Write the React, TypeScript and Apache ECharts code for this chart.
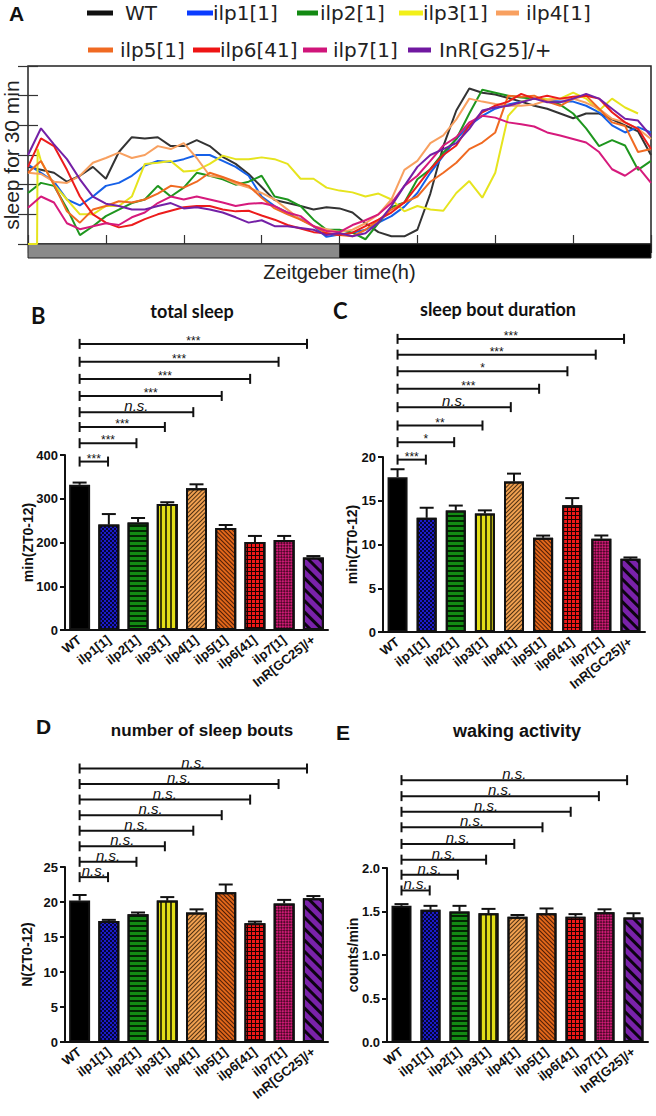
import React, { useEffect, useRef } from "react";
import * as echarts from "echarts";

// ---------- Panel A data (sleep per 30 min, sampled every 0.5 h) ----------
const TIMES = [0,0.5,1,1.5,2,2.5,3,3.5,4,4.5,5,5.5,6,6.5,7,7.5,8,8.5,9,9.5,10,10.5,11,11.5,12,12.5,13,13.5,14,14.5,15,15.5,16,16.5,17,17.5,18,18.5,19,19.5,20,20.5,21,21.5,22,22.5,23,23.5,24];
const WT = [13,12.5,12,10.5,11.5,13,11,15.5,18,17.8, 18,16.5,16.5,17.5,16.5,14.7,13.5,11.8,9.6,7.4, 6.9,6.4,5.8,6.2,6,5.3,3.5,2,1.3,1.3, 2.4,8.5,16.5,22.5,26.2,25.5,25.2,24.6,24,23.3, 22.8,22,21.2,22,22,21,20,19,15];
const ILP1 = [13.4,12,10.5,7.5,6.5,8,9.8,10.3,11.5,13.2, 14,13.8,14.3,15,15,14,13,11.5,8,6.4, 5.3,4.2,3,1.2,1.6,1.9,2.4,3.6,4.7,6.3, 8.6,12,14.9,17.7,20,21.6,22.8,23.5,24,24.5, 24.2,24,24,23.3,22.2,20,18.8,19.7,18.8];
const ILP2 = [8.6,10.3,9.8,6,1.5,3,4.7,5.8,6.9,7.5, 9.8,8,9.5,12,11.5,10.9,10,10.5,11.5,8, 7.5,6.4,4.1,2.4,2.4,1.9,0.8,3.5,6.2,7, 10.9,12.6,15.4,17.7,22,26,25.5,25,24.7,24.5, 24.3,23.5,22,19.5,16.5,17.5,16.6,12.5,14];
const ILP3 = [0,14,10,7.5,5,5,6.4,6.4,8,13.5, 13.7,14,12.2,12.4,13.5,14.9,14.3,14.3,14.6,14.3, 13.5,11,11,9.5,9,8.7,8,8.5,7.5,5.5, 6.4,5.8,5.6,8.6,10.6,7.8,12,21.6,24,24.5, 24.4,24.5,25.5,24.5,22.5,24.5,23,22,null];
const ILP3_STEP = [[0.35, 0], [0.37, 16]];
const ILP4 = [12,11.8,10.5,10.3,11.5,13.7,14.5,15.4,14.5,15, 16.5,16,17,14.5,11.5,11.2,10.2,9.5,8.6,7.5, 5.8,4.1,3,2.5,2,2.4,3.5,5,7.5,12.5, 14,17,18.3,21,24.5,24,23.6,23.3,23.3,23.5, 24.2,24.5,24.5,23.8,22.8,21.1,20.5,19.4,17.7];
const ILP5 = [12,14,10,5.5,3.6,5.8,6.4,7.2,7,7.5, 8.5,9.8,9.5,10.5,12,11.3,10.5,9.8,7.8,6, 5,4.1,3,1.8,1.5,1.3,2.4,4,5.8,7, 8,10.5,12,13.7,16,17.1,18.8,25,24.8,25, 24,23.3,24.5,25,22.8,20.5,19.9,15.5,16];
const ILP6 = [13,17.8,16.5,12.5,8,5,3.6,2.8,3.2,4.2, 5,5.6,6.2,6.4,6.4,5.8,5.5,5.6,4.8,4.1, 3.2,2.6,2,1.8,1.5,1.9,3,4.1,5.3,7, 9.8,12.6,15,16.6,20,22.2,23.3,24,25.3,24.5, 25,24.5,24.8,25,24.5,22.2,20.5,19.4,16];
const ILP7 = [6.1,8,7,3.5,2.5,3,3.5,3.2,4.5,5.3, 6.9,8,7.5,8,7.5,7,6.4,6.8,6.9,6.4, 5.3,4.7,3,2.2,2,3.2,4,5,6.9,9.8, 11.5,14,16.6,18,20.5,21.6,21.3,20.5,20.2,19.8, 18.8,18.3,17.7,17.1,15.5,12.6,11.5,13,10.3];
const INR = [15,19.5,16.8,14.3,10.9,8,6.8,6.4,5.8,5.8, 6.4,6.9,6,6.2,5.8,5.3,4.5,3.6,4,3, 3,2.7,2.4,1.5,1.8,1.3,1.8,3.6,6.4,9.8, 13,15,16,17,19.4,22.5,23,23.3,23.9,24.5, 23.9,23.9,24.5,25.3,24.5,22.8,21.1,20.8,18.2];

const LINE_NAMES = ["WT", "ilp1[1]", "ilp2[1]", "ilp3[1]", "ilp4[1]", "ilp5[1]", "ilp6[41]", "ilp7[1]", "InR[G25]/+"];
const LINE_VALUES = [WT, ILP1, ILP2, ILP3, ILP4, ILP5, ILP6, ILP7, INR];
const LINE_COLORS = ["#333333", "#1560e8", "#1e961e", "#e6e41e", "#f8a060", "#f06a22", "#ec1c1c", "#d61a7c", "#7420a6"];
const LEGEND_COLORS = ["#111111", "#0a3cff", "#138a13", "#f2f018", "#f8a060", "#f06a22", "#ee1414", "#d0157a", "#7018a0"];

// light / dark phases
const LD_START = [0, 12];
const LD_END = [12, 24];
const LD_COLORS = ["#8a8a8a", "#000000"];

// ---------- Bar panels ----------
const CATS_BCD = ["WT", "ilp1[1]", "ilp2[1]", "ilp3[1]", "ilp4[1]", "ilp5[1]", "ilp6[41]", "ilp7[1]", "InR[GC25]/+"];
const CATS_E = ["WT", "ilp1[1]", "ilp2[1]", "ilp3[1]", "ilp4[1]", "ilp5[1]", "ilp6[41]", "ilp7[1]", "InR[G25]/+"];

const B_MEAN = [332, 241, 246, 288, 324, 233, 201, 206, 166];
const B_ERR = [5, 24, 10, 4, 9, 7, 14, 9, 3];
const B_SIG = ["***", "***", "***", "n.s.", "***", "***", "***", "***"];
const B_LEVELS = [385, 427, 464, 498, 535, 574, 613, 654];

const C_MEAN = [17.7, 13.05, 13.9, 13.55, 17.2, 10.77, 14.5, 10.65, 8.37];
const C_ERR = [0.9, 1.15, 0.55, 0.35, 0.9, 0.25, 0.8, 0.38, 0.15];
const C_SIG = ["***", "*", "**", "n.s.", "***", "*", "***", "***"];
const C_LEVELS = [19.7, 21.7, 23.6, 25.7, 27.8, 29.8, 31.7, 33.5];

const D_MEAN = [20.2, 17.3, 18.25, 20.2, 18.5, 21.4, 16.95, 19.8, 20.55];
const D_ERR = [0.8, 0.15, 0.25, 0.5, 0.45, 1.1, 0.25, 0.5, 0.3];
const D_SIG = ["n.s.", "n.s.", "n.s.", "n.s.", "n.s.", "n.s.", "n.s.", "n.s."];
const D_LEVELS = [23.55, 25.74, 27.96, 30.19, 32.41, 34.63, 36.85, 39.07];

const E_MEAN = [1.565, 1.52, 1.5, 1.48, 1.44, 1.48, 1.44, 1.49, 1.43];
const E_ERR = [0.02, 0.045, 0.065, 0.05, 0.02, 0.055, 0.03, 0.035, 0.05];
const E_SIG = ["n.s.", "n.s.", "n.s.", "n.s.", "n.s.", "n.s.", "n.s.", "n.s."];
const E_LEVELS = [1.742, 1.923, 2.096, 2.277, 2.468, 2.646, 2.826, 3.01];

const BAR_BASE = ["#000000", "#1c1cc8", "#138a13", "#e2de18", "#f0a050", "#e0661a", "#200000", "#cc1a74", "#7a22aa"];
const Q = Math.PI / 4;
const BAR_DECALS: any[] = [
  null,
  { symbol: "rect", symbolSize: 1, color: "rgba(0,0,25,0.85)", dashArrayX: [[2, 2], [0, 2, 2, 0]], dashArrayY: [2, 0] },
  { symbol: "rect", symbolSize: 1, color: "rgba(0,25,0,0.9)", dashArrayX: [1, 0], dashArrayY: [1.2, 2.2] },
  { symbol: "rect", symbolSize: 1, color: "rgba(20,20,0,0.8)", dashArrayX: [1.1, 3], dashArrayY: [1, 0] },
  { symbol: "rect", symbolSize: 1, color: "rgba(40,20,0,0.8)", dashArrayX: [1, 0], dashArrayY: [1, 2], rotation: -Q },
  { symbol: "rect", symbolSize: 1, color: "rgba(40,10,0,0.8)", dashArrayX: [1, 0], dashArrayY: [1, 2], rotation: Q },
  { symbol: "rect", symbolSize: 1, color: "#f01818", dashArrayX: [3, 1], dashArrayY: [3, 1] },
  { symbol: "rect", symbolSize: 1, color: "rgba(30,0,10,0.7)", dashArrayX: [[1.5, 1.5], [0, 1.5, 1.5, 0]], dashArrayY: [1.5, 0], rotation: Q },
  { symbol: "rect", symbolSize: 1, color: "rgba(0,0,0,0.9)", dashArrayX: [1, 0], dashArrayY: [2.5, 4.5], rotation: Q },
];

// ---------- layout ----------
const FONT = '"Liberation Sans", Arial, sans-serif';
const LEG_ROW = [0, 0, 0, 0, 0, 1, 1, 1, 1];
const LEG_SWATCH_X = [87, 187, 297, 399, 496, 88, 193, 303, 408];
const LEG_SWATCH_W = [26, 26, 21, 24, 23, 25, 27, 24, 23];
const LEG_TEXT_X = [125, 213, 320, 423, 526, 120, 220, 333, 439];
const LEG_ROW_Y = [13, 50];

function buildOption() {
  const grids: any[] = [
    { left: 28, top: 66, width: 623, height: 178, show: true, borderColor: "#222", borderWidth: 1.5, backgroundColor: "transparent" },
    { left: 28, top: 244, width: 623, height: 14 },
    { left: 65, top: 455, width: 263, height: 175 },
    { left: 383, top: 457, width: 262, height: 175 },
    { left: 65, top: 867, width: 263, height: 175 },
    { left: 387, top: 868, width: 261, height: 174 },
  ].map((g) => ({ ...g, containLabel: false, outerBoundsMode: "none" }));

  const xAxis: any[] = [
    { gridIndex: 0, type: "value", min: 0, max: 24, interval: 3, position: "bottom", axisLine: { show: false }, axisTick: { inside: true, length: 9, lineStyle: { color: "#333", width: 1.2 } }, axisLabel: { show: false }, splitLine: { show: false } },
    { gridIndex: 0, type: "value", min: 0, max: 24, interval: 3, position: "top", axisLine: { show: false }, axisTick: { inside: true, length: 9, lineStyle: { color: "#333", width: 1.2 } }, axisLabel: { show: false }, splitLine: { show: false } },
    { gridIndex: 1, type: "value", min: 0, max: 24, axisLine: { show: false }, axisTick: { show: false }, axisLabel: { show: false }, splitLine: { show: false }, name: "Zeitgeber time(h)", nameLocation: "middle", nameGap: 4, nameTextStyle: { fontFamily: FONT, fontSize: 20, color: "#222" } },
  ];
  const yAxis: any[] = [
    { gridIndex: 0, type: "value", min: 0, max: 30, interval: 5, position: "left", axisLine: { show: false }, axisTick: { inside: true, length: 10, lineStyle: { color: "#333", width: 1.2 } }, axisLabel: { show: false }, splitLine: { show: false }, name: "sleep for 30 min", nameLocation: "middle", nameGap: 6, nameMoveOverlap: false, nameTextStyle: { fontFamily: FONT, fontSize: 21, color: "#222" } },
    { gridIndex: 0, type: "value", min: 0, max: 30, interval: 5, position: "right", axisLine: { show: false }, axisTick: { inside: true, length: 10, lineStyle: { color: "#333", width: 1.2 } }, axisLabel: { show: false }, splitLine: { show: false } },
    { gridIndex: 1, type: "value", min: 0, max: 1, show: false },
  ];

  const series: any[] = [];

  LINE_VALUES.forEach((vals, k) => {
    let data: any[] = TIMES.map((t, i) => [t, vals[i] === null ? "-" : vals[i]]);
    if (k === 3) {
      data = [data[0], ...ILP3_STEP, ...data.slice(1)];
    }
    series.push({
      type: "line", name: LINE_NAMES[k], xAxisIndex: 0, yAxisIndex: 0, data,
      showSymbol: false, symbol: "none", connectNulls: false,
      lineStyle: { width: 2, color: LINE_COLORS[k] }, itemStyle: { color: LINE_COLORS[k] }, z: 3,
    });
  });

  series.push({
    type: "custom", xAxisIndex: 2, yAxisIndex: 2, clip: false, z: 3,
    data: LD_START.map((s, i) => [s, LD_END[i], i]),
    encode: { x: [0, 1] },
    renderItem: (params: any, api: any) => {
      const p0 = api.coord([api.value(0), 1]);
      const p1 = api.coord([api.value(1), 0]);
      return {
        type: "rect",
        shape: { x: p0[0], y: p0[1], width: p1[0] - p0[0], height: p1[1] - p0[1] },
        style: { fill: LD_COLORS[params.dataIndex], stroke: "#222", lineWidth: 1 },
      };
    },
  });

  const panels = [
    { grid: 2, cats: CATS_BCD, mean: B_MEAN, err: B_ERR, sig: B_SIG, levels: B_LEVELS, max: 400, interval: 100, name: "min(ZT0-12)", gap: 30, fmt: (v: number) => String(v), bw: 21 },
    { grid: 3, cats: CATS_BCD, mean: C_MEAN, err: C_ERR, sig: C_SIG, levels: C_LEVELS, max: 20, interval: 5, name: "min(ZT0-12)", gap: 24, fmt: (v: number) => String(v), bw: 20 },
    { grid: 4, cats: CATS_BCD, mean: D_MEAN, err: D_ERR, sig: D_SIG, levels: D_LEVELS, max: 25, interval: 5, name: "N(ZT0-12)", gap: 31, fmt: (v: number) => String(v), bw: 21 },
    { grid: 5, cats: CATS_E, mean: E_MEAN, err: E_ERR, sig: E_SIG, levels: E_LEVELS, max: 2, interval: 0.5, name: "counts/min", gap: 27, fmt: (v: number) => v.toFixed(1), bw: 20 },
  ];

  panels.forEach((p) => {
    const ax = xAxis.length;
    xAxis.push({
      gridIndex: p.grid, type: "category", data: p.cats,
      axisLine: { lineStyle: { color: "#111", width: 2 } },
      axisTick: { alignWithLabel: true, length: 5, lineStyle: { color: "#111", width: 2 } },
      axisLabel: { rotate: 38, interval: 0, margin: 8, fontFamily: FONT, fontWeight: "bold", fontSize: 13, color: "#111" },
      splitLine: { show: false },
    });
    yAxis.push({
      gridIndex: p.grid, type: "value", min: 0, max: p.max, interval: p.interval,
      axisLine: { show: true, lineStyle: { color: "#111", width: 2 } },
      axisTick: { show: true, length: 5, lineStyle: { color: "#111", width: 2 } },
      axisLabel: { margin: 7, fontFamily: FONT, fontWeight: "bold", fontSize: 13, color: "#111", formatter: p.fmt },
      splitLine: { show: false },
      name: p.name, nameLocation: "middle", nameGap: p.gap, nameMoveOverlap: false,
      nameTextStyle: { fontFamily: FONT, fontWeight: "bold", fontSize: 14, color: "#111" },
    });
    series.push({
      type: "bar", xAxisIndex: ax, yAxisIndex: ax, barWidth: p.bw, z: 2,
      itemStyle: { borderColor: "#111", borderWidth: 2 },
      data: p.mean.map((m, i) => {
        const st: any = { color: BAR_BASE[i] };
        if (BAR_DECALS[i]) st.decal = BAR_DECALS[i];
        return { value: m, itemStyle: st };
      }),
    });
    series.push({
      type: "custom", xAxisIndex: ax, yAxisIndex: ax, clip: false, z: 5,
      data: p.mean.map((m, i) => [i, m, p.err[i]]),
      encode: { x: 0, y: 1 },
      renderItem: (params: any, api: any) => {
        const i = api.value(0), m = api.value(1), e = api.value(2);
        const b = api.coord([i, m]);
        const t = api.coord([i, m + e]);
        return {
          type: "group",
          children: [
            { type: "line", shape: { x1: b[0], y1: b[1], x2: t[0], y2: t[1] }, style: { stroke: "#111", lineWidth: 2 } },
            { type: "line", shape: { x1: t[0] - 7, y1: t[1], x2: t[0] + 7, y2: t[1] }, style: { stroke: "#111", lineWidth: 2 } },
          ],
        };
      },
    });
    series.push({
      type: "custom", xAxisIndex: ax, yAxisIndex: ax, clip: false, z: 5,
      data: p.levels.map((lv, i) => [i + 1, lv]),
      encode: { x: 0, y: 1 },
      renderItem: (params: any, api: any) => {
        const target = api.value(0), lv = api.value(1);
        const a = api.coord([0, lv]);
        const b = api.coord([target, lv]);
        const xr = b[0] - 0.8 * target;
        const label = p.sig[params.dataIndex];
        const isNs = label === "n.s.";
        const y = a[1];
        return {
          type: "group",
          children: [
            { type: "line", shape: { x1: a[0], y1: y, x2: xr, y2: y }, style: { stroke: "#111", lineWidth: 2 } },
            { type: "line", shape: { x1: a[0], y1: y - 5, x2: a[0], y2: y + 5 }, style: { stroke: "#111", lineWidth: 2 } },
            { type: "line", shape: { x1: xr, y1: y - 5, x2: xr, y2: y + 5 }, style: { stroke: "#111", lineWidth: 2 } },
            {
              type: "text", x: (a[0] + xr) / 2, y: isNs ? y + 1 : y + 3,
              style: {
                text: label, fill: "#111",
                font: isNs ? `italic 15px ${FONT}` : `12px ${FONT}`,
                align: "center", verticalAlign: "bottom", textAlign: "center", textVerticalAlign: "bottom",
              },
            },
          ],
        };
      },
    });
  });

  const graphic: any[] = [];
  LINE_NAMES.forEach((n, k) => {
    const cy = LEG_ROW_Y[LEG_ROW[k]];
    graphic.push({ type: "rect", shape: { x: LEG_SWATCH_X[k], y: cy - 2.5, width: LEG_SWATCH_W[k], height: 5 }, style: { fill: LEGEND_COLORS[k] } });
    graphic.push({
      type: "text", x: LEG_TEXT_X[k], y: cy,
      style: { text: n, fill: "#222", font: '20px "DejaVu Sans", sans-serif', align: "left", verticalAlign: "middle", textAlign: "left", textVerticalAlign: "middle" },
    });
  });

  const lt = (text: string, left: number, top: number, fam: string, size: number) => ({
    text, left, top, padding: 0,
    textStyle: { fontFamily: fam, fontWeight: "bold", fontSize: size, color: "#111" },
  });
  const ct = (text: string, cx: number, top: number, fam: string, size: number) => ({
    text, left: cx, top, padding: 0, textAlign: "center",
    textStyle: { fontFamily: fam, fontWeight: "bold", fontSize: size, color: "#111" },
  });

  const title = [
    lt("A", 9, 3, FONT, 21),
    lt("B", 31, 304, "Lato", 22),
    lt("C", 333, 299, "Lato", 22),
    lt("D", 36, 716, FONT, 21),
    lt("E", 336, 722, FONT, 21),
    ct("total sleep", 192, 302, "Lato", 18),
    ct("sleep bout duration", 498, 300, "Lato", 18),
    ct("number of sleep bouts", 202, 722, FONT, 17),
    ct("waking activity", 517, 722, FONT, 18),
  ];

  return { animation: false, backgroundColor: "#ffffff", title, graphic, grid: grids, xAxis, yAxis, series };
}

export default function App() {
  const ref = useRef<HTMLDivElement>(null);
  useEffect(() => {
    document.body.style.margin = "0";
    const chart = echarts.init(ref.current as HTMLDivElement, null, { renderer: "svg", width: 656, height: 1116 });
    chart.setOption(buildOption() as any);
    return () => chart.dispose();
  }, []);
  return <div ref={ref} style={{ position: "absolute", left: 0, top: 0, width: 656, height: 1116, background: "#fff" }} />;
}
